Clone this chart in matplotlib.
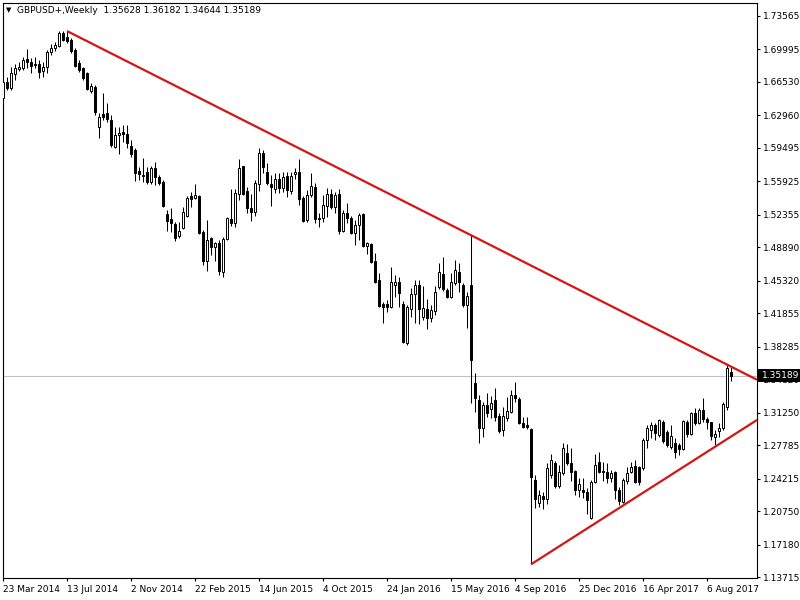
import matplotlib
matplotlib.use("Agg")
import matplotlib.pyplot as plt
from matplotlib.patches import Rectangle
import numpy as np

# ---------------- data (weekly GBPUSD candles) ----------------
opens = [1.6482, 1.6652, 1.6588, 1.6738, 1.6791, 1.6802, 1.6898, 1.6866, 1.6844, 1.6844,
         1.6770, 1.6812, 1.6972, 1.7015, 1.7036, 1.7175, 1.7132, 1.7100, 1.6994, 1.6855,
         1.6802, 1.6748, 1.6556, 1.6599, 1.6172, 1.6311, 1.6322, 1.6247, 1.5959, 1.6087,
         1.6119, 1.6097, 1.5969, 1.5927, 1.5703, 1.5649, 1.5692, 1.5585, 1.5735, 1.5639,
         1.5585, 1.5244, 1.5191, 1.5137, 1.5009, 1.5095, 1.5223, 1.5436, 1.5415, 1.5436,
         1.5052, 1.4743, 1.4988, 1.4892, 1.4935, 1.4625, 1.4977, 1.5191, 1.5148, 1.5457,
         1.5756, 1.5489, 1.5308, 1.5265, 1.5564, 1.5895, 1.5692, 1.5564, 1.5511, 1.5617,
         1.5521, 1.5649, 1.5489, 1.5671, 1.5692, 1.5415, 1.5180, 1.5447, 1.5532, 1.5201,
         1.5201, 1.5329, 1.5457, 1.5319, 1.5457, 1.5063, 1.5255, 1.5201, 1.5041, 1.5127,
         1.5244, 1.4903, 1.4924, 1.4743, 1.4540, 1.4284, 1.4284, 1.4252, 1.4487, 1.4519,
         1.4284, 1.3868, 1.4231, 1.4391, 1.4487, 1.4145, 1.4231, 1.4135, 1.4209, 1.4465,
         1.4604, 1.4433, 1.4359, 1.4508, 1.4625, 1.4487, 1.4273, 1.4487, 1.3441, 1.3260,
         1.2961, 1.3206, 1.3164, 1.3260, 1.3089, 1.2940, 1.3068, 1.3132, 1.3313, 1.3270,
         1.3014, 1.2993, 1.2950, 1.2406, 1.2161, 1.2236, 1.2204, 1.2460, 1.2588, 1.2342,
         1.2481, 1.2694, 1.2588, 1.2502, 1.2300, 1.2300, 1.2278, 1.2001, 1.2385, 1.2598,
         1.2502, 1.2492, 1.2428, 1.2492, 1.2300, 1.2172, 1.2396, 1.2492, 1.2556, 1.2545,
         1.2534, 1.2833, 1.2940, 1.2993, 1.2887, 1.3025, 1.2918, 1.2758, 1.2801, 1.2780,
         1.2737, 1.3025, 1.2897, 1.3121, 1.3014, 1.3153, 1.3057, 1.3025, 1.2865, 1.2929,
         1.2961, 1.3185, 1.35628]
highs = [1.6674, 1.6706, 1.6812, 1.6844, 1.6866, 1.6919, 1.7004, 1.6908, 1.6919, 1.6887,
         1.6866, 1.6994, 1.7058, 1.7079, 1.7196, 1.7196, 1.7196, 1.7122, 1.7015, 1.6887,
         1.6812, 1.6759, 1.6642, 1.6620, 1.6322, 1.6535, 1.6428, 1.6300, 1.6172, 1.6172,
         1.6193, 1.6193, 1.6033, 1.5948, 1.5745, 1.5841, 1.5745, 1.5756, 1.5799, 1.5660,
         1.5607, 1.5287, 1.5308, 1.5159, 1.5159, 1.5319, 1.5436, 1.5479, 1.5564, 1.5447,
         1.5073, 1.5180, 1.4999, 1.4945, 1.4967, 1.4999, 1.5212, 1.5511, 1.5511, 1.5831,
         1.5760, 1.5532, 1.5457, 1.5607, 1.5948, 1.5927, 1.5788, 1.5660, 1.5681, 1.5681,
         1.5692, 1.5692, 1.5692, 1.5735, 1.5831, 1.5436, 1.5500, 1.5681, 1.5575, 1.5255,
         1.5447, 1.5521, 1.5511, 1.5479, 1.5511, 1.5287, 1.5361, 1.5223, 1.5180, 1.5255,
         1.5250, 1.4945, 1.4935, 1.4828, 1.4615, 1.4305, 1.4327, 1.4679, 1.4593, 1.4572,
         1.4316, 1.4273, 1.4455, 1.4540, 1.4540, 1.4476, 1.4337, 1.4273, 1.4476, 1.4721,
         1.4785, 1.4455, 1.4615, 1.4753, 1.4721, 1.4508, 1.4412, 1.5018, 1.3548, 1.3313,
         1.3238, 1.3334, 1.3302, 1.3388, 1.3121, 1.3185, 1.3292, 1.3366, 1.3452, 1.3292,
         1.3078, 1.3078, 1.2960, 1.2460, 1.2300, 1.2278, 1.2588, 1.2684, 1.2609, 1.2566,
         1.2801, 1.2790, 1.2748, 1.2513, 1.2428, 1.2428, 1.2321, 1.2406, 1.2684, 1.2705,
         1.2598, 1.2588, 1.2513, 1.2502, 1.2332, 1.2428, 1.2545, 1.2598, 1.2620, 1.2556,
         1.2854, 1.2993, 1.3025, 1.3014, 1.3057, 1.3046, 1.2940, 1.2993, 1.2854, 1.2801,
         1.3046, 1.3046, 1.3132, 1.3174, 1.3174, 1.3281, 1.3078, 1.3030, 1.2940, 1.3014,
         1.3238, 1.3640, 1.36182]
lows = [1.6460, 1.6567, 1.6567, 1.6674, 1.6770, 1.6780, 1.6802, 1.6748, 1.6802, 1.6695,
        1.6706, 1.6748, 1.6940, 1.6983, 1.7026, 1.7090, 1.7068, 1.6962, 1.6812, 1.6759,
        1.6674, 1.6567, 1.6535, 1.6300, 1.6055, 1.6247, 1.6226, 1.5959, 1.5948, 1.5884,
        1.6012, 1.5948, 1.5852, 1.5596, 1.5607, 1.5585, 1.5564, 1.5564, 1.5553, 1.5553,
        1.5319, 1.5063, 1.5052, 1.4956, 1.4988, 1.5084, 1.5212, 1.5319, 1.5404, 1.5031,
        1.4700, 1.4636, 1.4807, 1.4743, 1.4593, 1.4572, 1.4967, 1.5116, 1.5105, 1.5393,
        1.5447, 1.5255, 1.5169, 1.5223, 1.5489, 1.5681, 1.5553, 1.5329, 1.5468, 1.5468,
        1.5479, 1.5425, 1.5457, 1.5617, 1.5340, 1.5159, 1.5159, 1.5425, 1.5148, 1.5105,
        1.5159, 1.5212, 1.5297, 1.5255, 1.5031, 1.5052, 1.5148, 1.5031, 1.4913, 1.4967,
        1.4892, 1.4817, 1.4721, 1.4508, 1.4252, 1.4081, 1.4199, 1.4241, 1.4359, 1.4252,
        1.3868, 1.3847, 1.4145, 1.4081, 1.4071, 1.4113, 1.4017, 1.4092, 1.4167, 1.4444,
        1.4423, 1.4348, 1.4348, 1.4487, 1.4412, 1.4252, 1.4028, 1.3228, 1.3132, 1.2801,
        1.2865, 1.3078, 1.3068, 1.3036, 1.2908, 1.2876, 1.3036, 1.3121, 1.3238, 1.3004,
        1.2965, 1.2950, 1.1507, 1.2108, 1.2118, 1.2097, 1.2150, 1.2428, 1.2321, 1.2321,
        1.2460, 1.2566, 1.2396, 1.2246, 1.2225, 1.2214, 1.2044, 1.1990, 1.2374, 1.2481,
        1.2396, 1.2374, 1.2385, 1.2204, 1.2140, 1.2165, 1.2364, 1.2481, 1.2374, 1.2353,
        1.2513, 1.2748, 1.2854, 1.2833, 1.2865, 1.2801, 1.2758, 1.2737, 1.2641, 1.2673,
        1.2726, 1.2865, 1.2887, 1.2993, 1.3004, 1.3025, 1.2950, 1.2833, 1.2780, 1.2865,
        1.2940, 1.3153, 1.34644]
closes = [1.6652, 1.6588, 1.6748, 1.6802, 1.6812, 1.6887, 1.6866, 1.6823, 1.6834, 1.6759,
          1.6812, 1.6972, 1.7015, 1.7047, 1.7175, 1.7100, 1.7090, 1.6983, 1.6823, 1.6780,
          1.6695, 1.6578, 1.6610, 1.6332, 1.6279, 1.6279, 1.6258, 1.5980, 1.6087, 1.6108,
          1.6097, 1.6001, 1.5884, 1.5681, 1.5671, 1.5655, 1.5585, 1.5735, 1.5639, 1.5575,
          1.5329, 1.5169, 1.5148, 1.4988, 1.5063, 1.5265, 1.5415, 1.5404, 1.5447, 1.5041,
          1.4743, 1.4967, 1.4892, 1.4935, 1.4636, 1.4977, 1.5201, 1.5148, 1.5468, 1.5735,
          1.5457, 1.5308, 1.5265, 1.5575, 1.5895, 1.5745, 1.5575, 1.5532, 1.5617, 1.5521,
          1.5639, 1.5500, 1.5649, 1.5692, 1.5404, 1.5169, 1.5447, 1.5543, 1.5191, 1.5195,
          1.5340, 1.5457, 1.5319, 1.5447, 1.5063, 1.5255, 1.5201, 1.5041, 1.5127, 1.5233,
          1.4903, 1.4935, 1.4732, 1.4519, 1.4263, 1.4252, 1.4252, 1.4519, 1.4519, 1.4401,
          1.3879, 1.4252, 1.4391, 1.4487, 1.4231, 1.4241, 1.4135, 1.4220, 1.4412, 1.4625,
          1.4444, 1.4359, 1.4519, 1.4647, 1.4519, 1.4273, 1.4369, 1.3687, 1.3281, 1.2961,
          1.3206, 1.3121, 1.3228, 1.3078, 1.2929, 1.3089, 1.3142, 1.3313, 1.3281, 1.3014,
          1.2972, 1.2972, 1.2438, 1.2204, 1.2246, 1.2204, 1.2534, 1.2620, 1.2342, 1.2492,
          1.2748, 1.2588, 1.2492, 1.2300, 1.2364, 1.2278, 1.2193, 1.2385, 1.2566, 1.2492,
          1.2492, 1.2428, 1.2481, 1.2300, 1.2182, 1.2406, 1.2481, 1.2545, 1.2385, 1.2385,
          1.2833, 1.2961, 1.2993, 1.2908, 1.3046, 1.2822, 1.2780, 1.2876, 1.2705, 1.2737,
          1.3036, 1.2897, 1.3121, 1.3014, 1.3153, 1.3057, 1.3025, 1.2876, 1.2897, 1.2961,
          1.3217, 1.3605, 1.35189]

date_tick_idx = [0, 16, 32, 48, 64, 80, 96, 112, 128, 144, 160, 176]
date_tick_labels = ["23 Mar 2014", "13 Jul 2014", "2 Nov 2014", "22 Feb 2015",
                    "14 Jun 2015", "4 Oct 2015", "24 Jan 2016", "15 May 2016",
                    "4 Sep 2016", "25 Dec 2016", "16 Apr 2017", "6 Aug 2017"]
price_ticks = [1.73565, 1.69995, 1.66530, 1.62960, 1.59495, 1.55925, 1.52355, 1.48890,
               1.45320, 1.41855, 1.38285, 1.34820, 1.31250, 1.27785, 1.24215, 1.20750,
               1.17180, 1.13715]

symbol_label = "GBPUSD+,Weekly"

# trend line anchors (candle index, price)
upper_idx = [16, 117]
upper_price = [1.7196, 1.5018]
lower_idx = [132, 178]
lower_price = [1.1507, 1.2761]

# ---------------- figure ----------------
W, H = 800, 600
fig = plt.figure(figsize=(8, 6), dpi=100)
fig.patch.set_facecolor("white")
L_, R_, T_, B_ = 2.5, 757.0, 2.5, 578.0
ax = fig.add_axes([L_ / W, 1 - B_ / H, (R_ - L_) / W, (B_ - T_) / H])
ax.set_facecolor("white")

o = np.array(opens)
h = np.array(highs)
l = np.array(lows)
c = np.array(closes)
x = np.arange(len(o))

ax.set_xlim(-0.125, 188.5)
ax.set_ylim(1.13612, 1.75005)

# current price line
last_price = closes[-1]
ax.axhline(last_price, color="#c0c0c0", lw=0.8, zorder=1)

# candles
ax.vlines(x, l, h, color="black", lw=0.75, zorder=2)
up = c >= o
dn = ~up
ax.bar(x[up], np.maximum(c[up] - o[up], 1e-5), bottom=o[up], width=0.5,
       facecolor="white", edgecolor="black", lw=0.7, zorder=3)
ax.bar(x[dn], o[dn] - c[dn], bottom=c[dn], width=0.5,
       facecolor="black", edgecolor="black", lw=0.7, zorder=3)

# trend lines (rays to the right edge)
def ray(xs, ys):
    slope = (ys[1] - ys[0]) / (xs[1] - xs[0])
    x_end = ax.get_xlim()[1]
    return [xs[0], x_end], [ys[0], ys[0] + slope * (x_end - xs[0])]

red = "#d41515"
ax.plot(*ray(upper_idx, upper_price), color=red, lw=1.6, zorder=4, solid_capstyle="butt")
ax.plot(*ray(lower_idx, lower_price), color=red, lw=1.6, zorder=4, solid_capstyle="butt")

# axes styling
for s in ax.spines.values():
    s.set_color("black")
    s.set_linewidth(0.8)

ax.yaxis.tick_right()
ax.set_yticks(price_ticks)
ax.set_yticklabels([f"{v:.5f}" for v in price_ticks])
ax.tick_params(axis="y", which="both", direction="out", length=2.5, width=0.8,
               pad=2, labelsize=6.5, colors="black", left=False, right=True)
ax.set_xticks(date_tick_idx)
ax.set_xticklabels(date_tick_labels, ha="left")
ax.tick_params(axis="x", direction="out", length=2.5, width=0.8, pad=2.5,
               labelsize=6.5, colors="black")

# current price label box
trans = ax.get_yaxis_transform()
px_per_price = (B_ - T_) / (1.75005 - 1.13612)
box_h = 12.5 / px_per_price
ax.add_patch(Rectangle((1.0, last_price - box_h / 2), 43 / (R_ - L_), box_h,
                       transform=trans, facecolor="black", edgecolor="none",
                       clip_on=False, zorder=10))
ax.text(1.0 + 5 / (R_ - L_), last_price, f"{last_price:.5f}", transform=trans,
        color="white", fontsize=6.5, va="center", ha="left", zorder=11, clip_on=False)

# header
fig.text(6 / W, 1 - 10.5 / H, "\u25BC", fontsize=5, va="center", ha="left", color="black")
fig.text(17 / W, 1 - 10.5 / H,
         f"{symbol_label}  {opens[-1]:.5f} {highs[-1]:.5f} {lows[-1]:.5f} {closes[-1]:.5f}",
         fontsize=6.5, va="center", ha="left", color="black")

fig.savefig("out.png", dpi=100, facecolor="white")
